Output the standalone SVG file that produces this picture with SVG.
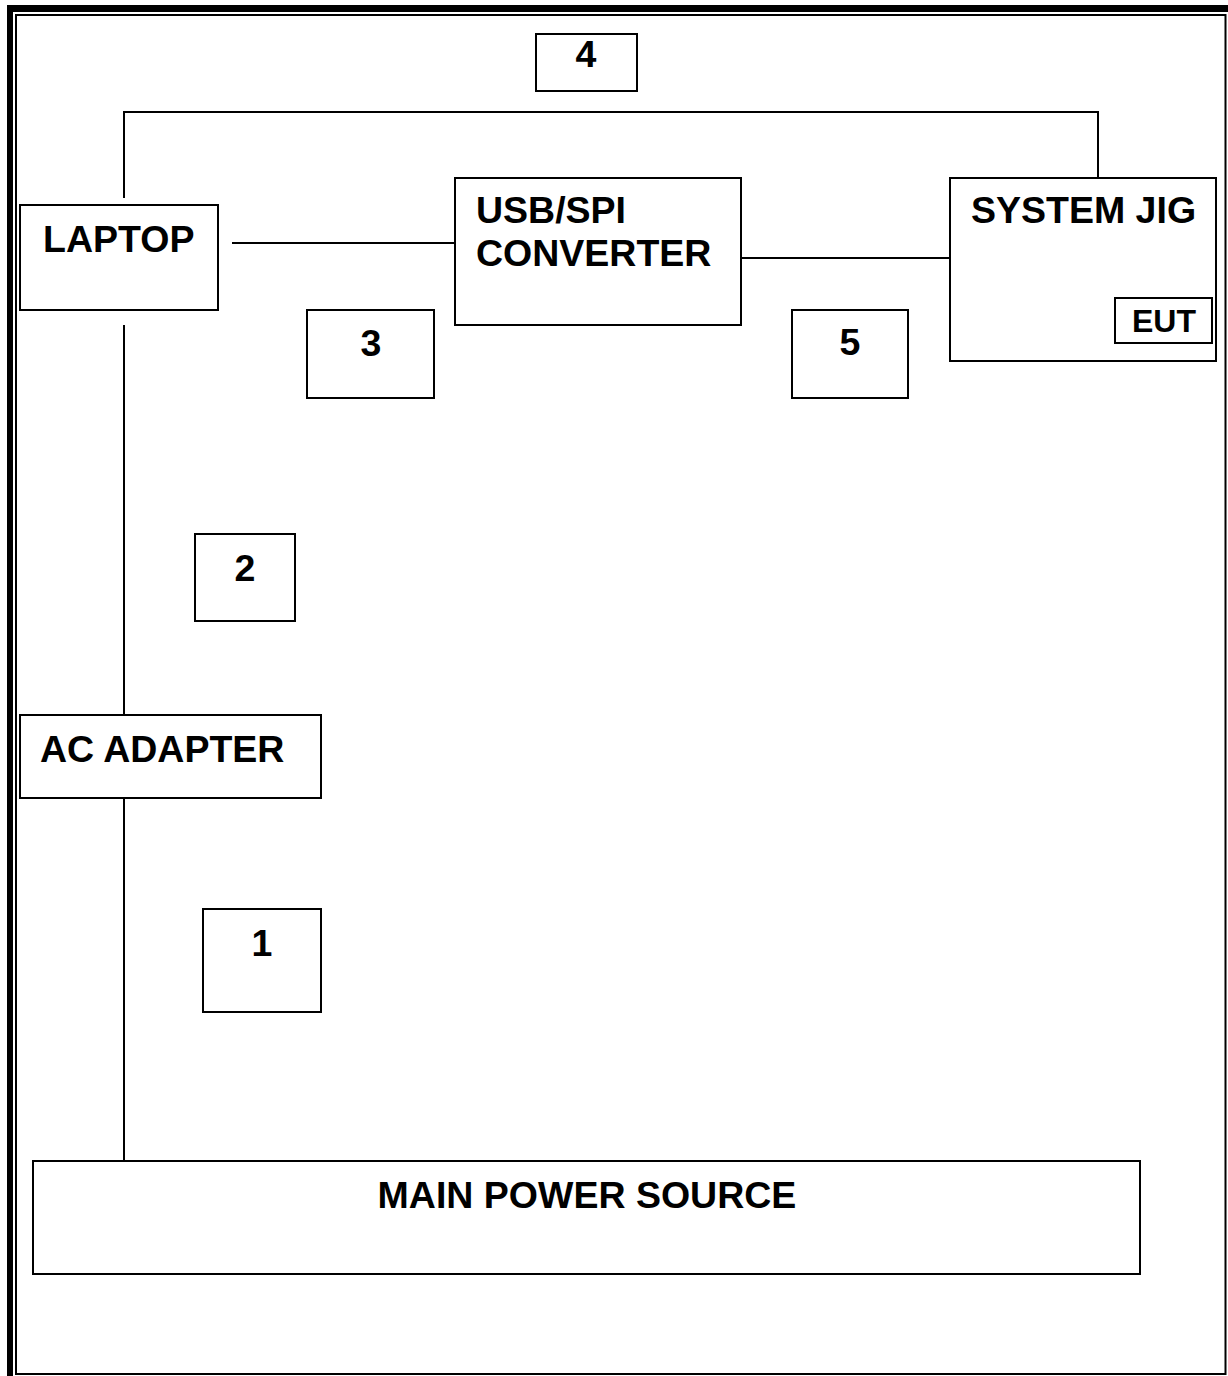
<svg xmlns="http://www.w3.org/2000/svg" width="1228" height="1376" viewBox="0 0 1228 1376">
<style>
.box{fill:#fff;stroke:#000;stroke-width:2}
.ln{fill:none;stroke:#000;stroke-width:2}
.t{font-family:"Liberation Sans",Arial,sans-serif;font-weight:bold;font-size:37.5px;fill:#000}
.c{text-anchor:middle}
</style>
<rect width="1228" height="1376" fill="#fff"/>
<g id="border">
<rect x="7" y="5" width="1221" height="7" fill="#000"/>
<rect x="7" y="5" width="6" height="1371" fill="#000"/>
<path d="M16 15 H1225.5 V1374 H16 Z" class="ln" stroke-width="2.5"/>
</g>
<g id="connectors">
<path class="ln" d="M124 198 V112 H1098 V180"/>
<path class="ln" d="M232 243 H455"/>
<path class="ln" d="M741 258 H950"/>
<path class="ln" d="M124 325 V715"/>
<path class="ln" d="M124 798 V1161"/>
</g>
<g id="laptop"><rect class="box" x="20" y="205" width="198" height="105"/><text class="t" x="43" y="252">LAPTOP</text></g>
<g id="converter"><rect class="box" x="455" y="178" width="286" height="147"/><text class="t" x="476" y="223">USB/SPI</text><text class="t" x="476" y="266">CONVERTER</text></g>
<g id="jig"><rect class="box" x="950" y="178" width="266" height="183"/><text class="t" x="971" y="223">SYSTEM JIG</text></g>
<g id="eut"><rect class="box" x="1115" y="298" width="97" height="45"/><text class="t" x="1132" y="332" style="font-size:32px">EUT</text></g>
<g id="acadapter"><rect class="box" x="20" y="715" width="301" height="83"/><text class="t" x="40" y="762">AC ADAPTER</text></g>
<g id="mainpower"><rect class="box" x="33" y="1161" width="1107" height="113"/><text class="t c" x="587" y="1208">MAIN POWER SOURCE</text></g>
<g id="label1"><rect class="box" x="203" y="909" width="118" height="103"/><text class="t c" x="262" y="956">1</text></g>
<g id="label2"><rect class="box" x="195" y="534" width="100" height="87"/><text class="t c" x="245" y="581">2</text></g>
<g id="label3"><rect class="box" x="307" y="310" width="127" height="88"/><text class="t c" x="371" y="356">3</text></g>
<g id="label4"><rect class="box" x="536" y="34" width="101" height="57"/><text class="t c" x="586" y="67">4</text></g>
<g id="label5"><rect class="box" x="792" y="310" width="116" height="88"/><text class="t c" x="850" y="355">5</text></g>
</svg>
